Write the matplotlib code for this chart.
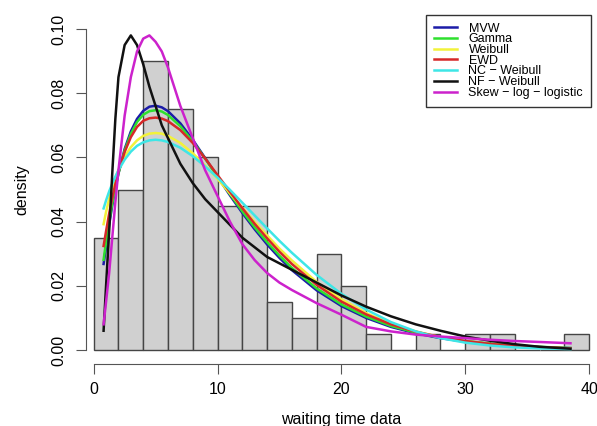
import numpy as np
import matplotlib.pyplot as plt

plt.rcParams['font.family'] = ['Liberation Sans', 'DejaVu Sans']

# histogram of the waiting time data (bin width 2, density scale)
bin_edges = [0, 2, 4, 6, 8, 10, 12, 14, 16, 18, 20, 22, 24, 26, 28, 30, 32, 34, 36, 38, 40]
dens = [0.035, 0.05, 0.09, 0.075, 0.06, 0.045, 0.045, 0.015, 0.01, 0.03,
        0.02, 0.005, 0.0, 0.005, 0.0, 0.005, 0.005, 0.0, 0.0, 0.005]

# fitted densities
xs = [0.8, 1.0, 1.25, 1.5, 1.75, 2.0, 2.5, 3, 3.5, 4, 4.5, 5, 5.5, 6, 7, 8, 9, 10,
      11, 12, 13, 14, 15, 16, 18, 20, 22, 24, 26, 28, 30, 32, 34, 36, 38.5]

mvw = [0.0268, 0.0322, 0.0390, 0.0450, 0.0503, 0.0550, 0.0626, 0.0681, 0.0720, 0.0745,
       0.0758, 0.0761, 0.0756, 0.0744, 0.0706, 0.0655, 0.0598, 0.0540, 0.0482, 0.0427,
       0.0376, 0.0329, 0.0287, 0.0249, 0.0186, 0.0137, 0.0100, 0.0072, 0.0052, 0.0037,
       0.0026, 0.0018, 0.0013, 0.0009, 0.0006]
gamma = [0.0281, 0.0337, 0.0400, 0.0457, 0.0506, 0.0550, 0.0621, 0.0673, 0.0710, 0.0733,
         0.0744, 0.0747, 0.0743, 0.0732, 0.0697, 0.0650, 0.0596, 0.0541, 0.0486, 0.0432,
         0.0382, 0.0336, 0.0294, 0.0256, 0.0192, 0.0142, 0.0104, 0.0075, 0.0054, 0.0039,
         0.0028, 0.0020, 0.0014, 0.0010, 0.0006]
weibull = [0.0392, 0.0430, 0.0471, 0.0506, 0.0535, 0.0561, 0.0602, 0.0632, 0.0653, 0.0667,
           0.0674, 0.0676, 0.0674, 0.0667, 0.0645, 0.0613, 0.0575, 0.0533, 0.0488, 0.0443,
           0.0399, 0.0357, 0.0316, 0.0279, 0.0212, 0.0158, 0.0115, 0.0082, 0.0058, 0.0040,
           0.0027, 0.0018, 0.0012, 0.0008, 0.0005]
ewd = [0.0324, 0.0370, 0.0425, 0.0474, 0.0517, 0.0555, 0.0617, 0.0663, 0.0695, 0.0714,
       0.0722, 0.0724, 0.0721, 0.0713, 0.0685, 0.0645, 0.0597, 0.0545, 0.0493, 0.0442,
       0.0393, 0.0348, 0.0306, 0.0268, 0.0203, 0.0151, 0.0111, 0.0080, 0.0057, 0.0040,
       0.0028, 0.0019, 0.0013, 0.0009, 0.0005]
nc_weibull = [0.0441, 0.0466, 0.0494, 0.0518, 0.0540, 0.0560, 0.0593, 0.0618, 0.0636, 0.0647,
              0.0653, 0.0655, 0.0653, 0.0648, 0.0630, 0.0604, 0.0572, 0.0537, 0.0499, 0.0459,
              0.0419, 0.0379, 0.0340, 0.0303, 0.0234, 0.0175, 0.0126, 0.0087, 0.0058, 0.0037,
              0.0023, 0.0014, 0.0008, 0.0005, 0.0003]
nf_weibull = [0.006, 0.020, 0.037, 0.055, 0.072, 0.085, 0.095, 0.098, 0.095, 0.089,
              0.082, 0.076, 0.070, 0.066, 0.058, 0.052, 0.047, 0.043, 0.039, 0.035,
              0.032, 0.029, 0.027, 0.025, 0.021, 0.017, 0.0135, 0.0105, 0.008, 0.006,
              0.0042, 0.0029, 0.0018, 0.0010, 0.0004]
skew_ll = [0.008, 0.015, 0.024, 0.035, 0.046, 0.056, 0.073, 0.085, 0.093, 0.097,
           0.098, 0.096, 0.093, 0.088, 0.076, 0.066, 0.056, 0.048, 0.040, 0.033,
           0.028, 0.024, 0.021, 0.0187, 0.0146, 0.011, 0.0072, 0.0058, 0.0048, 0.0042,
           0.0037, 0.0032, 0.0028, 0.0025, 0.0021]

curves = [
    (mvw, '#1c1ca8', 'MVW'),
    (gamma, '#2ee02e', 'Gamma'),
    (weibull, '#f2f23a', 'Weibull'),
    (ewd, '#d62828', 'EWD'),
    (nc_weibull, '#3ee6e6', 'NC \u2212 Weibull'),
    (nf_weibull, '#111111', 'NF \u2212 Weibull'),
    (skew_ll, '#cc22cc', 'Skew \u2212 log \u2212 logistic'),
]

fig = plt.figure(figsize=(5.97, 4.26), dpi=100)
ax = fig.add_axes([86 / 597, 62 / 426, 511 / 597, 348 / 426])

edges = np.array(bin_edges)
ax.bar(edges[:-1], dens, width=np.diff(edges), align='edge',
       color='#d0d0d0', edgecolor='#454545', linewidth=1.0)

for ys, col, lab in curves:
    ax.plot(xs, ys, color=col, lw=1.8, label=lab)

ax.set_xlim(-0.62, 40.64)
ax.set_ylim(-0.00436, 0.10405)

for s in ['top', 'right']:
    ax.spines[s].set_visible(False)
ax.spines['left'].set_bounds(0, 0.1)
ax.spines['bottom'].set_bounds(0, 40)
for s in ['left', 'bottom']:
    ax.spines[s].set_color('#555555')

ax.set_xticks([0, 10, 20, 30, 40])
ax.set_yticks([0, 0.02, 0.04, 0.06, 0.08, 0.10])
ax.set_yticklabels(['0.00', '0.02', '0.04', '0.06', '0.08', '0.10'])
ax.tick_params(axis='both', length=7, color='#555555', labelsize=11.5)
ax.tick_params(axis='x', pad=6)
ax.tick_params(axis='y', pad=7, labelrotation=90)
for t in ax.get_yticklabels():
    t.set_va('center')

ax.set_xlabel('waiting time data', fontsize=11.5, labelpad=11)
ax.set_ylabel('density', fontsize=11.5, labelpad=16)

ax.legend(loc='upper left', bbox_to_anchor=(426 / 597, 1 - 15 / 426),
          bbox_transform=fig.transFigure, borderaxespad=0, fontsize=9,
          fancybox=False, edgecolor='#333333', framealpha=1,
          handlelength=1.9, handletextpad=0.9, borderpad=0.6, labelspacing=-0.1)

fig.savefig('out.png', dpi=100)
